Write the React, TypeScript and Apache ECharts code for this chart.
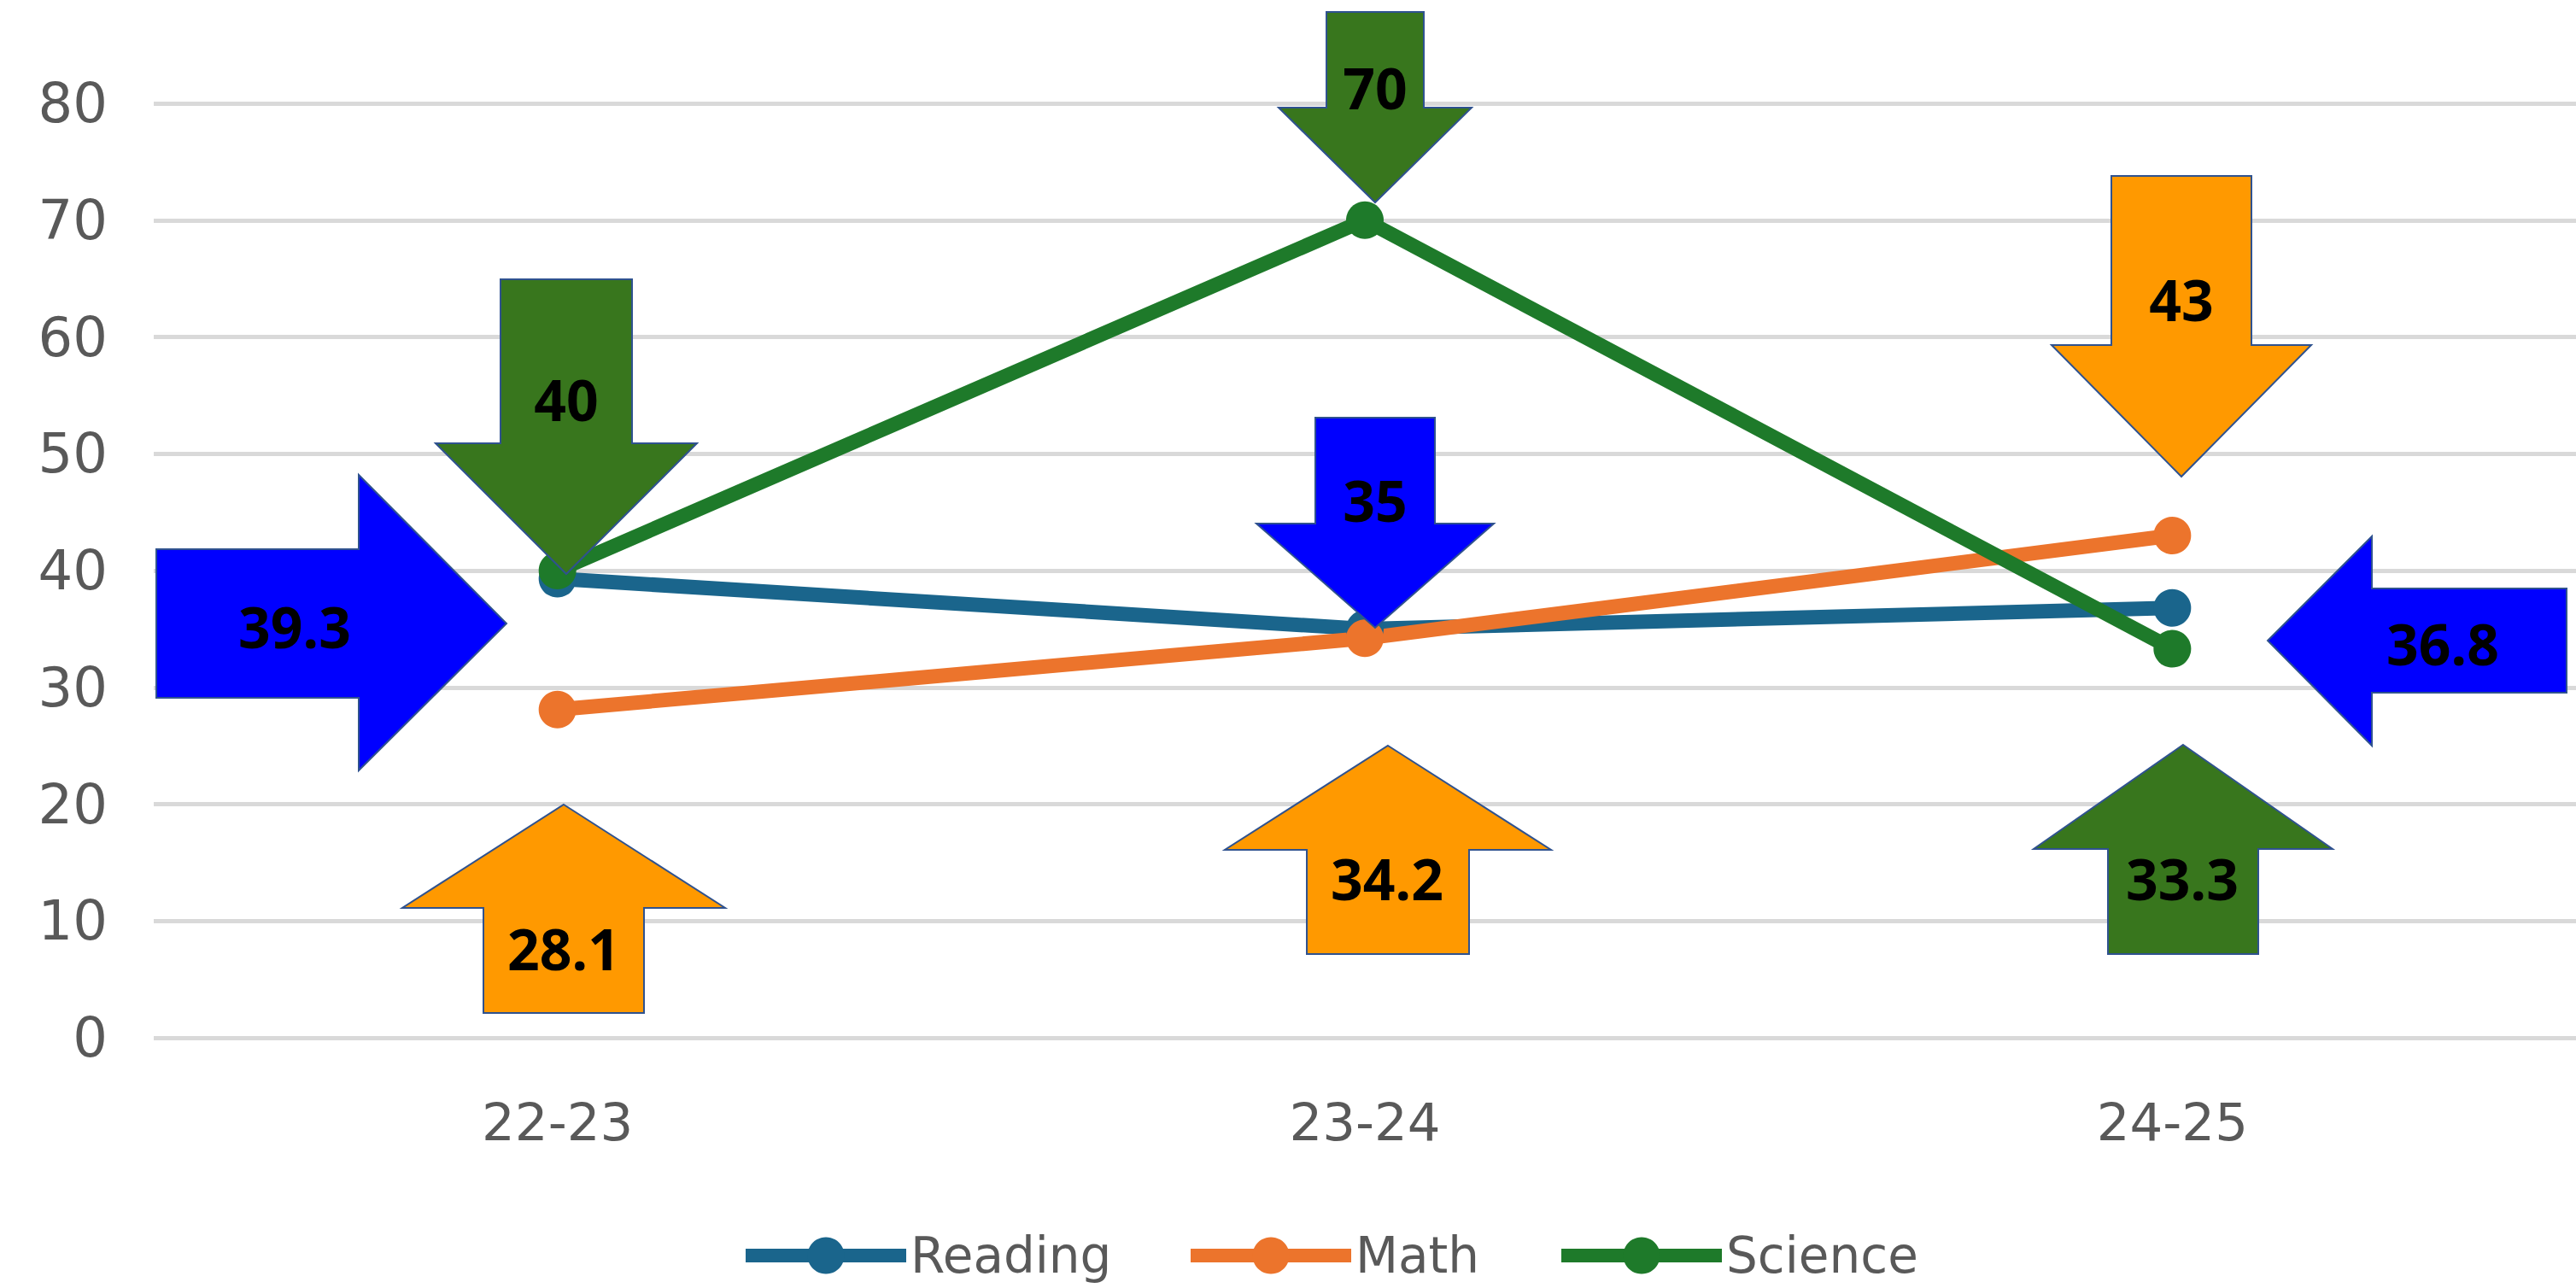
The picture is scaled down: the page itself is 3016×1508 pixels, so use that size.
import React, { useEffect, useRef } from "react";
import * as echarts from "echarts";

const categories = ["22-23", "23-24", "24-25"];
const reading = [39.3, 35, 36.8];
const math = [28.1, 34.2, 43];
const science = [40, 70, 33.3];
const yTicks = [0, 10, 20, 30, 40, 50, 60, 70, 80];

const COLORS = { reading: "#1A658C", math: "#EC742C", science: "#1E7A2A" };
const FILL = { blue: "#0000FF", orange: "#FF9900", green: "#38761D" };
const OUTLINE = "#2F528F";

type Pt = [number, number];

function downArrow(cx: number, top: number, sh: number, headY: number, hh: number, tipY: number): Pt[] {
  return [
    [cx - sh, top], [cx + sh, top], [cx + sh, headY], [cx + hh, headY],
    [cx, tipY], [cx - hh, headY], [cx - sh, headY],
  ];
}
function upArrow(cx: number, tipY: number, headY: number, hh: number, sh: number, bottom: number): Pt[] {
  return [
    [cx, tipY], [cx + hh, headY], [cx + sh, headY], [cx + sh, bottom],
    [cx - sh, bottom], [cx - sh, headY], [cx - hh, headY],
  ];
}
function rightArrow(left: number, sTop: number, sBot: number, headX: number, hTop: number, hBot: number, tipX: number, tipY: number): Pt[] {
  return [
    [left, sTop], [headX, sTop], [headX, hTop], [tipX, tipY],
    [headX, hBot], [headX, sBot], [left, sBot],
  ];
}
function leftArrow(right: number, sTop: number, sBot: number, headX: number, hTop: number, hBot: number, tipX: number, tipY: number): Pt[] {
  return [
    [right, sTop], [headX, sTop], [headX, hTop], [tipX, tipY],
    [headX, hBot], [headX, sBot], [right, sBot],
  ];
}

export default function App() {
  const ref = useRef<HTMLDivElement>(null);
  useEffect(() => {
    if (!ref.current) return;
    const chart = echarts.init(ref.current, null, { renderer: "svg" });

    const annotations: { pts: Pt[]; fill: string; text: string; tx: number; ty: number }[] = [
      { pts: rightArrow(183, 643, 817, 420, 556, 902, 593, 730), fill: FILL.blue, text: String(reading[0]), tx: 345, ty: 733 },
      { pts: downArrow(663, 327, 77, 519, 153, 672), fill: FILL.green, text: String(science[0]), tx: 663, ty: 467 },
      { pts: upArrow(660, 942, 1063, 189, 94, 1186), fill: FILL.orange, text: String(math[0]), tx: 660, ty: 1110 },
      { pts: downArrow(1610, 14, 57, 126, 113, 237), fill: FILL.green, text: String(science[1]), tx: 1610, ty: 102 },
      { pts: downArrow(1610, 489, 70, 613, 139, 735), fill: FILL.blue, text: String(reading[1]), tx: 1610, ty: 585 },
      { pts: upArrow(1625, 873, 995, 191, 95, 1117), fill: FILL.orange, text: String(math[1]), tx: 1624, ty: 1028 },
      { pts: downArrow(2554, 206, 82, 404, 152, 558), fill: FILL.orange, text: String(math[2]), tx: 2554, ty: 350 },
      { pts: leftArrow(3005, 689, 811, 2777, 628, 873, 2655, 750), fill: FILL.blue, text: String(reading[2]), tx: 2860, ty: 753 },
      { pts: upArrow(2556, 872, 994, 175, 88, 1117), fill: FILL.green, text: String(science[2]), tx: 2555, ty: 1028 },
    ];

    const graphic: any[] = [];
    annotations.forEach((a) => {
      graphic.push({
        type: "polygon",
        z: 100,
        shape: { points: a.pts },
        style: { fill: a.fill, stroke: OUTLINE, lineWidth: 2 },
      });
      graphic.push({
        type: "text",
        z: 101,
        x: a.tx,
        y: a.ty,
        style: {
          text: a.text,
          fill: "#000000",
          font: 'bold 66px "Noto Sans", sans-serif',
          align: "center",
          verticalAlign: "middle",
        },
      });
    });

    const mkSeries = (name: string, data: number[], color: string) => ({
      name,
      type: "line",
      data,
      symbol: "circle",
      symbolSize: 44,
      itemStyle: { color },
      lineStyle: { color, width: 17 },
      z: 3,
    });

    const legendBase = {
      top: 1436,
      itemWidth: 188,
      itemHeight: 54,
      lineStyle: { width: 16 },
      textStyle: { fontFamily: "DejaVu Sans", fontSize: 58, color: "#595959" },
      selectedMode: false,
    };

    chart.setOption({
      animation: false,
      backgroundColor: "#ffffff",
      grid: { left: 180, top: 121, width: 2860, height: 1094, containLabel: false },
      xAxis: {
        type: "category",
        data: categories,
        boundaryGap: true,
        axisLine: { show: false },
        axisTick: { show: false },
        axisLabel: { fontFamily: "DejaVu Sans", fontSize: 61, color: "#595959", margin: 68 },
      },
      yAxis: {
        type: "value",
        min: yTicks[0],
        max: yTicks[yTicks.length - 1],
        interval: yTicks[1] - yTicks[0],
        axisLine: { show: false },
        axisTick: { show: false },
        axisLabel: { fontFamily: "DejaVu Sans", fontSize: 64, color: "#595959", margin: 54 },
        splitLine: { lineStyle: { color: "#D9D9D9", width: 5 } },
      },
      legend: [
        { ...legendBase, left: 860, data: ["Reading"] },
        { ...legendBase, left: 1381, data: ["Math"] },
        { ...legendBase, left: 1815, data: ["Science"] },
      ],
      series: [
        mkSeries("Reading", reading, COLORS.reading),
        mkSeries("Math", math, COLORS.math),
        mkSeries("Science", science, COLORS.science),
      ],
      graphic,
    });

    return () => chart.dispose();
  }, []);

  return (
    <div
      ref={ref}
      style={{ position: "absolute", left: 0, top: 0, width: 3016, height: 1508, overflow: "hidden" }}
    />
  );
}
